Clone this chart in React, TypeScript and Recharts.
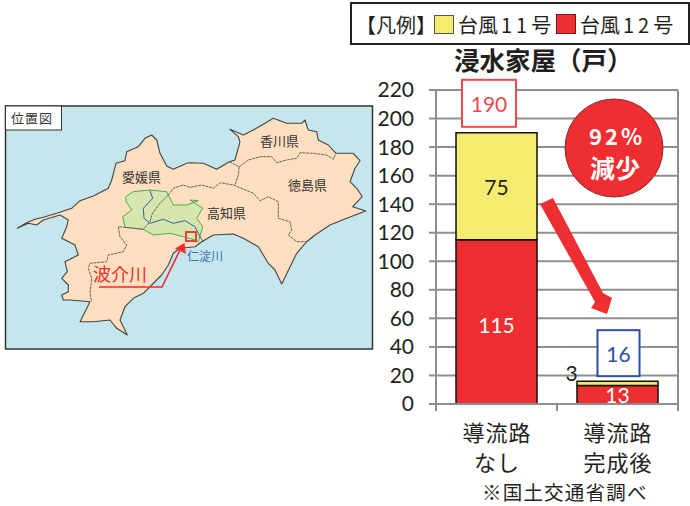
import React from 'react';
import { BarChart, Bar, XAxis, YAxis, CartesianGrid, LabelList, ReferenceLine } from 'recharts';

const categories = ['導流路\nなし', '導流路\n完成後'];
const typhoon12 = [115, 13];
const typhoon11 = [75, 3];
const totals = [190, 16];
const yTicks = [0, 20, 40, 60, 80, 100, 120, 140, 160, 180, 200, 220];

const data = categories.map((name, i) => ({
  name,
  edge: i,
  t12: typhoon12[i],
  t11: typhoon11[i],
  total: totals[i],
}));

const CJK = '"Noto Sans CJK JP", sans-serif';
const NUM = 'Lato, sans-serif';
const RED = '#EE2E30';
const YELLOW = '#F5EB6E';
const GRID = '#8E8E8E';
const TEXT = '#231F20';

// 地図の輪郭: 西側と東側で基準点が違う (3倍スケールの座標)
type Pt = number[];
const west = (pts: Pt[]) => pts.map(([x, y]) => [10 + x / 3, 130 + y / 3]);
const east = (pts: Pt[]) => pts.map(([x, y]) => [190 + x / 3, 110 + y / 3]);
const toPath = (pts: Pt[], close = false) =>
  'M' + pts.map(([x, y]) => `${x.toFixed(1)},${y.toFixed(1)}`).join(' L') + (close ? ' Z' : '');

const shikoku = toPath(
  [
    ...west([[22,295],[50,278],[75,268],[100,262],[140,250],[185,235],[210,212],[250,198],[295,175],[305,150],[318,100],[345,92],[350,65],[385,50],[405,25],[425,15],[440,30],[450,70],[470,108],[490,118],[530,100]]),
    ...east([[0,158],[40,160],[80,178],[118,155],[135,150],[150,95],[145,80],[120,58],[160,75],[190,60],[225,40],[250,25],[290,40],[335,40],[345,30],[355,60],[380,65],[385,90],[415,105],[438,130],[490,130],[510,152],[495,175],[480,215],[500,235],[517,260],[488,290],[527,303],[470,325],[420,345],[375,375],[350,395],[320,430],[275,522],[255,480],[235,460],[205,410],[160,385],[130,372],[70,375],[35,395],[15,410]]),
    ...west([[540,352],[510,355],[490,370],[475,405],[455,435],[425,465],[400,490],[370,505],[345,530],[330,570],[352,615],[320,595],[300,570],[250,575],[210,575],[225,545],[240,515],[180,510],[160,510],[155,495],[175,485],[175,465],[155,445],[172,425],[165,395],[205,375],[195,345],[155,325],[170,290],[175,270],[150,255],[100,270],[80,285],[55,280]]),
  ],
  true,
);
const borders = [
  toPath(east([[148,170],[175,150],[210,140],[245,140],[260,158],[290,150],[320,145],[330,128],[370,130],[410,135],[430,148],[438,130]])),
  toPath(east([[118,155],[148,170],[145,195],[135,225]])),
  toPath([
    ...west([[475,195],[490,175],[520,165]]),
    ...east([[0,232],[35,225],[70,235],[90,218],[130,225],[190,250],[210,272],[235,260],[265,275],[265,325],[300,335],[305,360],[295,375],[320,395],[350,395]]),
  ]),
  toPath(west([[475,195],[445,225],[425,255],[420,275],[400,298],[345,292],[325,290],[330,320],[350,345],[340,365],[295,375],[290,395],[240,400],[235,415],[245,445],[240,490],[245,515]])),
];
const basin = toPath(
  [
    ...west([[347,200],[370,185],[420,180],[470,185],[490,225],[530,225],[565,212]]),
    ...east([[0,270],[38,295],[20,325],[38,350],[25,395],[15,395]]),
    ...west([[555,330],[520,320],[480,310],[430,315],[400,298],[345,292],[338,260],[365,240],[348,215]]),
  ],
  true,
);
const river = toPath(west([[420,182],[428,205],[400,235],[402,265],[420,280],[460,268],[490,280],[525,272],[555,290],[570,320],[580,335]]));

function CategoryTick({ x, y, payload }: any) {
  const lines = String(payload.value).split('\n');
  return (
    <g>
      {lines.map((l, i) => (
        <text
          key={i}
          x={x + 0.5}
          y={y + 28 + i * 30}
          textAnchor="middle"
          fontFamily={CJK}
          fontSize={22}
          letterSpacing={1}
          fill={TEXT}
        >
          {l}
        </text>
      ))}
    </g>
  );
}

function CenterLabel({ x, y, width, height, value, fill, dx = 0, dy = 0 }: any) {
  return (
    <text
      x={x + width / 2 + dx}
      y={y + height / 2 + dy}
      textAnchor="middle"
      dominantBaseline="central"
      fontFamily={NUM}
      fontSize={21}
      fill={fill}
    >
      {value}
    </text>
  );
}

function TotalBox({ x, y, width, value, index }: any) {
  const color = index === 0 ? '#F0474D' : '#2E4FA3';
  const w = index === 0 ? 54 : 42;
  const h = index === 0 ? 47 : 46;
  const cx = x + width / 2 + (index === 0 ? -7.5 : 1);
  const cy = y + (index === 0 ? -29.5 : -28);
  return (
    <g>
      <rect x={cx - w / 2} y={cy - h / 2} width={w} height={h} fill="#fff" stroke={color} strokeWidth={2} />
      <text x={cx} y={cy} textAnchor="middle" dominantBaseline="central" fontFamily={NUM} fontSize={21} fill={color}>
        {value}
      </text>
    </g>
  );
}

function MapPanel() {
  return (
    <svg width={690} height={506} style={{ position: 'absolute', left: 0, top: 0 }}>
      <rect x={5.5} y={106} width={367} height={243} fill="#C5E6EC" stroke="#333" strokeWidth={1.5} />
      <path d={shikoku} fill="#FFDFBF" stroke="#444" strokeWidth={1.1} strokeLinejoin="round" />
      <path d={basin} fill="#D6E6AC" stroke="#4DAA50" strokeWidth={1} strokeLinejoin="round" />
      {borders.map((d) => (
        <path key={d} d={d} fill="none" stroke="#555" strokeWidth={0.9} strokeDasharray="3 0.8" />
      ))}
      <path d={river} fill="none" stroke="#2B5FB0" strokeWidth={1} />
      <rect x={186} y={232} width={10} height={9} fill="none" stroke={RED} strokeWidth={1.8} />
      <path d="M99,287 L162,287 L180,250" fill="none" stroke={RED} strokeWidth={1.6} />
      <path d="M184.5,243 L186,254 L175,248.5 Z" fill={RED} />
      <rect x={5.5} y={106} width={56} height={24} fill="#fff" stroke="#333" strokeWidth={1} />
      <g fontFamily={CJK} fill="#333" fontSize={13}>
        <text x={11} y={123} letterSpacing={1}>位置図</text>
        <text x={122} y={182}>愛媛県</text>
        <text x={260} y={146}>香川県</text>
        <text x={288} y={190}>徳島県</text>
        <text x={207} y={218}>高知県</text>
      </g>
      <text x={187} y={261} fontFamily={CJK} fontSize={12} fill="#3A6DB8">仁淀川</text>
      <text x={93} y={281} fontFamily={CJK} fontSize={18} fill={RED}>波介川</text>
    </svg>
  );
}

function Overlay() {
  return (
    <svg width={690} height={506} style={{ position: 'absolute', left: 0, top: 0, pointerEvents: 'none' }}>
      {/* 凡例 */}
      <rect x={351} y={3} width={338} height={41} fill="#fff" stroke="#222" strokeWidth={2} />
      <g fontFamily={CJK} fontSize={20} fill={TEXT}>
        <text x={356} y={33}>【凡例】</text>
        <rect x={434.5} y={15.5} width={19} height={18} fill={YELLOW} stroke="#555" strokeWidth={1} />
        <text x={458} y={33}>
          台風<tspan letterSpacing={4} dx={3}>11</tspan>号
        </text>
        <rect x={556.5} y={14.5} width={19} height={19} fill={RED} stroke="#7A1416" strokeWidth={1} />
        <text x={580} y={33}>
          台風<tspan letterSpacing={4} dx={3}>12</tspan>号
        </text>
      </g>
      {/* タイトル */}
      <text x={454} y={70} fontFamily={CJK} fontWeight={700} fontSize={25.5} fill={TEXT}>浸水家屋（戸）</text>
      {/* 減少バッジ */}
      <circle cx={614} cy={148} r={49} fill={RED} stroke="#8C2A2A" strokeWidth={1} />
      <text x={617} y={145} textAnchor="middle" fontFamily={CJK} fontWeight={700} fontSize={22} letterSpacing={3} fill="#fff">92%</text>
      <text x={615} y={178} textAnchor="middle" fontFamily={CJK} fontWeight={700} fontSize={25} fill="#fff">減少</text>
      {/* 矢印 */}
      <path d="M540,204 L553,198 L603,293 L612,298 L607,314 L591,308 L595,302 Z" fill={RED} />
      {/* 出典 */}
      <text x={482} y={500} fontFamily={CJK} fontSize={19.5} letterSpacing={1.2} fill={TEXT}>※国土交通省調べ</text>
    </svg>
  );
}

export default function App() {
  return (
    <div style={{ position: 'absolute', left: 0, top: 0, width: 690, height: 506, background: '#fff', overflow: 'hidden' }}>
      <MapPanel />
      <div style={{ position: 'absolute', left: 0, top: 0 }}>
        <BarChart
          width={690}
          height={506}
          data={data}
          margin={{ top: 90, right: 12, left: 0, bottom: 0 }}
          barSize={81}
          style={{ background: 'transparent' }}
        >
          <CartesianGrid xAxisId="cat" horizontal vertical={false} stroke={GRID} strokeWidth={2} />
          {/* カテゴリ境界の目盛り用 */}
          <XAxis
            xAxisId="base"
            dataKey="edge"
            type="number"
            domain={[0, 2]}
            ticks={[0, 1, 2]}
            interval={0}
            allowDataOverflow
            height={1}
            stroke={GRID}
            strokeWidth={2}
            tickLine={{ stroke: GRID, strokeWidth: 2 }}
            tickSize={7}
            tick={() => <g />}
          />
          <XAxis xAxisId="cat" dataKey="name" axisLine={false} tickLine={false} tick={<CategoryTick />} height={101} interval={0} />
          <YAxis
            type="number"
            domain={[0, 220]}
            ticks={yTicks}
            width={436}
            interval={0}
            stroke={GRID}
            strokeWidth={2}
            tickSize={7}
            tickMargin={15}
            tick={{ fontFamily: NUM, fontSize: 21, fill: TEXT }}
          />
          <ReferenceLine xAxisId="base" x={2} stroke={GRID} strokeWidth={2} />
          <Bar xAxisId="cat" dataKey="t12" stackId="a" fill={RED} stroke="#111" strokeWidth={1.5} isAnimationActive={false}>
            <LabelList dataKey="t12" content={(p: any) => <CenterLabel {...p} fill="#fff" dy={p.index === 0 ? 3 : 0} />} />
          </Bar>
          <Bar xAxisId="cat" dataKey="t11" stackId="a" fill={YELLOW} stroke="#111" strokeWidth={1.5} isAnimationActive={false}>
            <LabelList
              dataKey="t11"
              content={(p: any) => (
                <CenterLabel {...p} fill={TEXT} dx={p.index === 1 ? -46 : 0} dy={p.index === 1 ? -11 : 0} />
              )}
            />
            <LabelList dataKey="total" content={(p: any) => <TotalBox {...p} />} />
          </Bar>
        </BarChart>
      </div>
      <Overlay />
    </div>
  );
}
